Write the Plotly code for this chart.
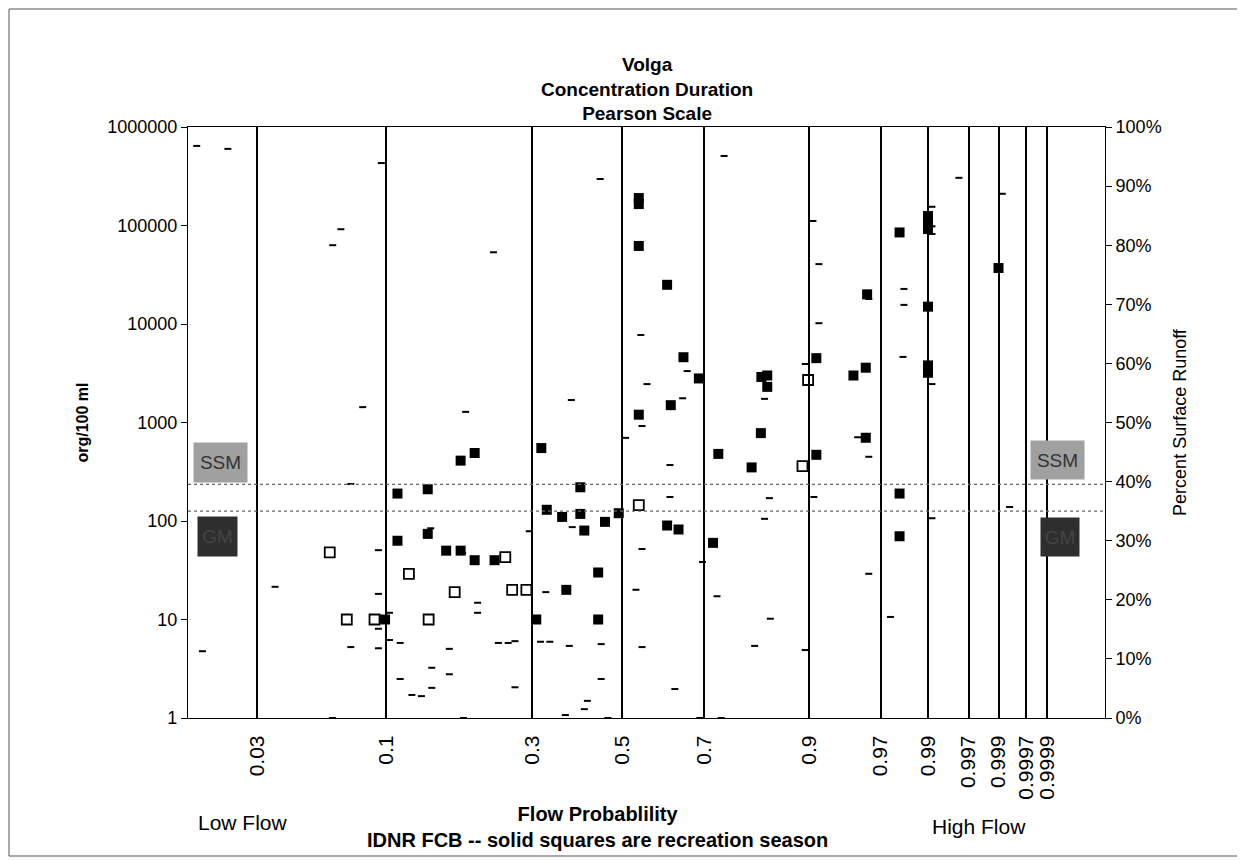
import plotly.graph_objects as go
from statistics import NormalDist

# ---------------- data ----------------
# Recreation season samples (solid squares): flow probability, org/100 ml
rec_prob = [0.099, 0.110, 0.110, 0.141, 0.141, 0.163, 0.182, 0.182, 0.202, 0.202,
            0.233, 0.308, 0.318, 0.329, 0.361, 0.401, 0.401, 0.410, 0.370, 0.442,
            0.442, 0.458, 0.491, 0.540, 0.540, 0.540, 0.540, 0.619, 0.610, 0.610,
            0.638, 0.650, 0.687, 0.720, 0.732, 0.803, 0.821, 0.822, 0.833, 0.833,
            0.910, 0.910, 0.950, 0.960, 0.961, 0.960, 0.980, 0.980, 0.980, 0.990,
            0.990, 0.990, 0.990, 0.990, 0.990, 0.999]
rec_conc = [10, 63, 190, 210, 74, 50, 50, 410, 490, 40,
            40, 10, 550, 130, 110, 220, 118, 80, 20, 30,
            10, 98, 120, 190000, 165000, 62000, 1200, 1500, 25000, 90,
            82, 4600, 2800, 60, 480, 350, 780, 2900, 3000, 2300,
            4500, 470, 3000, 3600, 20000, 700, 85000, 190, 70, 125000,
            105000, 92000, 15000, 3800, 3200, 37000]

# Non-recreation season samples (open squares)
non_prob = [0.0605, 0.0707, 0.0904, 0.121, 0.142, 0.174, 0.251, 0.263, 0.289,
            0.540, 0.891, 0.899]
non_conc = [48, 10, 10, 29, 10, 19, 43, 20, 20, 145, 360, 2700]

# Percent surface runoff (small dashes, right axis)
run_prob = [0.0161, 0.0223, 0.0733, 0.0935, 0.0935, 0.0935, 0.0935, 0.0733, 0.1028, 0.1028,
            0.1125, 0.1125, 0.124, 0.134, 0.1456, 0.1456, 0.167, 0.167, 0.2064, 0.2064,
            0.2393, 0.256, 0.268, 0.268, 0.1444, 0.1847, 0.2945, 0.327, 0.3164, 0.3353,
            0.3765, 0.449, 0.449, 0.417, 0.410, 0.368, 0.548, 0.548, 0.548, 0.545,
            0.617, 0.617, 0.629, 0.648, 0.659, 0.6956, 0.729, 0.809, 0.8386, 0.8369,
            0.828, 0.828, 0.895, 0.9055, 0.9133, 0.9133, 0.9622, 0.9536, 0.9622, 0.9622,
            0.9819, 0.9819, 0.9815, 0.991, 0.991, 0.991, 0.991, 0.991, 0.99914, 0.9959,
            0.9756, 0.99937, 0.9068, 0.895, 0.745, 0.4467, 0.381, 0.533, 0.5076, 0.5603,
            0.383, 0.0815, 0.189, 0.0359, 0.0171, 0.0959, 0.067, 0.0622, 0.2312,
            0.062, 0.186, 0.465, 0.689, 0.7385]
run_pct = [96.8, 96.3, 39.6, 28.4, 21.0, 15.1, 11.8, 12.0, 17.8, 13.2,
           12.7, 6.6, 3.9, 3.7, 8.5, 5.1, 11.7, 7.4, 19.5, 17.8,
           12.7, 12.7, 13.0, 5.2, 32.1, 27.9, 31.6, 21.3, 12.9, 12.9,
           12.2, 12.5, 6.6, 2.9, 1.5, 0.5, 49.4, 28.6, 12.0, 64.8,
           42.8, 37.4, 4.9, 54.1, 58.7, 26.4, 20.6, 12.2, 16.8, 37.2,
           33.7, 54.0, 59.9, 84.1, 76.8, 66.8, 70.9, 47.5, 44.2, 24.4,
           72.6, 69.9, 61.1, 86.5, 83.2, 81.9, 56.5, 33.8, 88.7, 91.4,
           17.1, 35.7, 37.4, 11.5, 95.1, 91.2, 53.8, 21.7, 47.4, 56.5,
           32.3, 52.6, 51.8, 22.2, 11.3, 93.9, 82.7, 80.0, 78.8,
           0.0, 0.0, 0.0, 0.0, 0.0]

# Axis ticks
x_ticks = [0.03, 0.1, 0.3, 0.5, 0.7, 0.9, 0.97, 0.99, 0.997, 0.999, 0.9997, 0.9999]
x_tick_text = ["0.03", "0.1", "0.3", "0.5", "0.7", "0.9", "0.97", "0.99",
               "0.997", "0.999", "0.9997", "0.9999"]
y_ticks = [1, 10, 100, 1000, 10000, 100000, 1000000]
y_tick_text = ["1", "10", "100", "1000", "10000", "100000", "1000000"]
pct_ticks = [0, 10, 20, 30, 40, 50, 60, 70, 80, 90, 100]
pct_tick_text = [f"{v}%" for v in pct_ticks]

# Standards: single sample maximum and geometric mean
ssm_value = 235
gm_value = 126

# ---------------- Pearson (type III) probability scale ----------------
SKEW = -0.55
_nd = NormalDist()


def pearson(p):
    z = _nd.inv_cdf(p)
    g = SKEW
    return (2.0 / g) * ((1 + g * z / 6 - g * g / 36) ** 3 - 1)


X_RANGE = [-2.512, 2.982]

FONT = "Arial, Liberation Sans, sans-serif"

# page body has an 8px margin; figure is sized/offset to compensate
OFF = 8
PL, PR, PT, PB = 188, 1105, 127, 718   # plot area in page pixels
PW, PH = PR - PL, PB - PT


def px(x):
    return (x - PL) / PW


def py(y):
    return (PB - y) / PH


fig = go.Figure()

fig.add_trace(go.Scatter(
    x=[pearson(p) for p in run_prob], y=run_pct, yaxis="y2", mode="markers",
    marker=dict(symbol="line-ew", size=5, line=dict(width=2, color="black")),
    showlegend=False, hoverinfo="skip"))

fig.add_trace(go.Scatter(
    x=[pearson(p) for p in non_prob], y=non_conc, mode="markers",
    marker=dict(symbol="square-open", size=10, color="black", line=dict(width=1.8)),
    showlegend=False))

fig.add_trace(go.Scatter(
    x=[pearson(p) for p in rec_prob], y=rec_conc, mode="markers",
    marker=dict(symbol="square", size=10, color="black"),
    showlegend=False))

# standard lines
for v in (ssm_value, gm_value):
    fig.add_shape(type="line", xref="paper", x0=0, x1=1, yref="y", y0=v, y1=v,
                  line=dict(color="#666666", width=1.2, dash="dot"))

fig.update_layout(
    width=1245 - OFF, height=860 - OFF,
    margin=dict(l=PL - OFF, r=1245 - PR, t=PT - OFF, b=860 - PB),
    paper_bgcolor="white", plot_bgcolor="white",
    font=dict(family=FONT, color="black", size=18),
    xaxis=dict(
        range=X_RANGE, tickmode="array",
        tickvals=[pearson(p) for p in x_ticks], ticktext=x_tick_text,
        tickangle=-90, showgrid=True, gridcolor="black", gridwidth=1.6,
        showline=True, linecolor="black", linewidth=1.2, mirror=True,
        ticks="outside", ticklen=8, tickcolor="rgba(0,0,0,0)",
        zeroline=False, tickfont=dict(size=21),
    ),
    yaxis=dict(
        type="log", range=[0, 6], tickmode="array", tickvals=y_ticks,
        ticktext=y_tick_text, showgrid=False, zeroline=False,
        showline=True, linecolor="black", linewidth=1.2, mirror=True,
        ticks="outside", ticklen=6, tickcolor="black", tickfont=dict(size=18),
        title=dict(text="<b>org/100 ml</b>", font=dict(size=16), standoff=14),
    ),
    yaxis2=dict(
        overlaying="y", side="right", range=[0, 100], tickmode="array",
        tickvals=pct_ticks, ticktext=pct_tick_text, showgrid=False,
        zeroline=False, showline=False, ticks="outside", ticklen=6,
        tickcolor="black", tickfont=dict(size=18),
        title=dict(text="Percent Surface Runoff", font=dict(size=18), standoff=12),
    ),
)

# Title
fig.add_annotation(xref="paper", yref="paper", x=0.5, y=1.0, yshift=1,
                   xanchor="center", yanchor="bottom", showarrow=False,
                   text="<b>Volga<br>Concentration Duration<br>Pearson Scale</b>",
                   font=dict(size=19), align="center")

# Bottom texts
fig.add_annotation(xref="paper", yref="paper", x=px(243), y=py(822),
                   xanchor="center", yanchor="middle", showarrow=False,
                   text="Low Flow", font=dict(size=21))
fig.add_annotation(xref="paper", yref="paper", x=px(979), y=py(826),
                   xanchor="center", yanchor="middle", showarrow=False,
                   text="High Flow", font=dict(size=21))
fig.add_annotation(xref="paper", yref="paper", x=px(597), y=py(827),
                   xanchor="center", yanchor="middle", showarrow=False,
                   text="<b>Flow Probablility<br>IDNR FCB -- solid squares are recreation season</b>",
                   font=dict(size=20), align="center")

# SSM / GM boxes
for xc, yc, w, h, txt, bg, fc in [
    (220.5, 462.5, 55, 41, "SSM", "#a0a0a0", "#333333"),
    (217.5, 536.5, 41, 41, "GM", "#2e2e2e", "#444444"),
    (1057.5, 460.0, 55, 40, "SSM", "#a0a0a0", "#333333"),
    (1060.0, 537.0, 40, 40, "GM", "#2e2e2e", "#444444"),
]:
    fig.add_annotation(xref="paper", yref="paper", x=px(xc), y=py(yc),
                       xanchor="center", yanchor="middle",
                       showarrow=False, text=txt, width=w - 2, height=h - 2,
                       bgcolor=bg, borderpad=0, font=dict(size=19, color=fc))

# outer frame
fig.add_shape(type="rect", xref="paper", yref="paper",
              x0=px(9), x1=px(1241), y0=py(856), y1=py(9),
              line=dict(color="#555555", width=1))

fig.write_html("out.html")
